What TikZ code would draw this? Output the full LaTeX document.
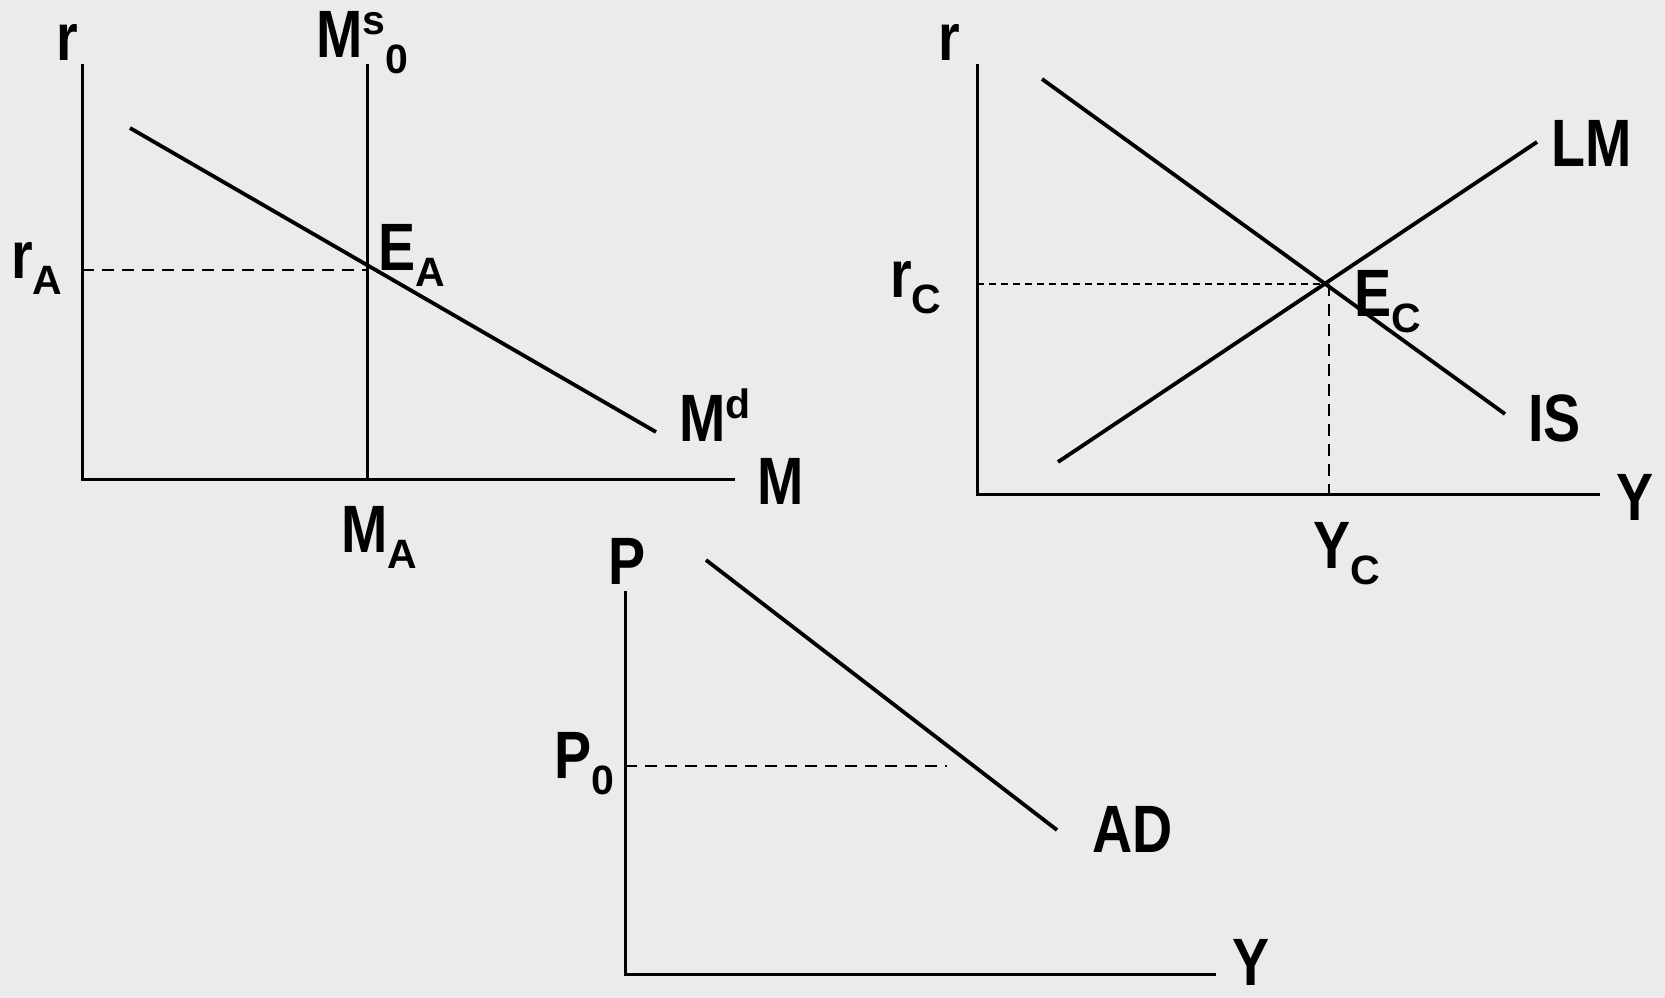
\documentclass[tikz,border=0pt]{standalone}
\usepackage{fontspec}
\setmainfont{Liberation Sans}[FakeStretch=0.83]
\newfontfamily\idxfont{Liberation Sans}
\usepackage{tikz}
\usetikzlibrary{positioning}
\definecolor{PaperGray}{HTML}{EBEBEB}
\newcommand\lowidx[1]{\raisebox{-16pt}{\idxfont\bfseries\fontsize{41}{41}\selectfont #1}}
\newcommand\highidx[1]{\raisebox{23pt}{\idxfont\bfseries\fontsize{41}{41}\selectfont #1}}

\begin{document}
\begin{tikzpicture}[x=1pt,y=-1pt,
  axis/.style={line width=3pt},
  curve/.style={line width=3.8pt},
  guide/.style={line width=2.6pt,dash pattern=on 12pt off 8pt},
  fineguide/.style={line width=2pt,dash pattern=on 7pt off 5pt},
  lbl/.style={inner sep=0pt,anchor=base west,font=\fontsize{67}{70}\selectfont\bfseries}
]
  \fill[PaperGray] (0,0) rectangle (1665,998);
  \useasboundingbox (0,0) rectangle (1665,998);

  % money market
  \coordinate (mO) at (82,479);
  \coordinate (mTop) at (82,64);
  \coordinate (mEnd) at (735,479);
  \coordinate (msTop) at (367,64);
  \coordinate (msBot) at (367,479);
  \coordinate (mdA) at (130,128);
  \coordinate (mdB) at (656,432);
  \coordinate (eA) at (367,270);
  \coordinate (rA) at (82,270);
  \draw[axis] (mTop) -- (mO) -- (mEnd);
  \draw[axis] (msTop) -- (msBot);
  \draw[curve] (mdA) -- (mdB);
  \draw[guide] (rA) -- (eA);
  \node[lbl] (mr) at (56,61) {r};
  \node[lbl] (ms) at (316,58) {M\highidx{s}\lowidx{0}};
  \node[lbl] (mrA) at (11,278) {r\lowidx{A}};
  \node[lbl] (mEA) at (378,270) {E\lowidx{A}};
  \node[lbl] (md) at (679,441) {M\highidx{d}};
  \node[lbl] (mM) at (757,504) {M};
  \node[lbl] (mMA) at (341,552) {M\lowidx{A}};

  % IS-LM
  \coordinate (iO) at (977,494);
  \coordinate (iTop) at (977,64);
  \coordinate (iEnd) at (1600,494);
  \coordinate (isA) at (1042,79);
  \coordinate (isB) at (1505,414);
  \coordinate (lmA) at (1058,462);
  \coordinate (lmB) at (1537,142);
  \coordinate (eC) at (1326,284);
  \coordinate (rC) at (977,284);
  \coordinate (yC) at (1329,494);
  \draw[axis] (iTop) -- (iO) -- (iEnd);
  \draw[curve] (isA) -- (isB);
  \draw[curve] (lmA) -- (lmB);
  \draw[fineguide] (rC) -- (eC);
  \draw[guide] (eC -| yC) -- (yC);
  \node[lbl] (ir) at (938,61) {r};
  \node[lbl] (irC) at (890,297) {r\lowidx{C}};
  \node[lbl] (iEC) at (1354,316) {E\lowidx{C}};
  \node[lbl] (iLM) at (1551,166) {LM};
  \node[lbl] (iIS) at (1528,441) {IS};
  \node[lbl] (iY) at (1616,520) {Y};
  \node[lbl] (iYC) at (1313,568) {Y\lowidx{C}};

  % AD
  \coordinate (aO) at (625,974);
  \coordinate (aTop) at (625,591);
  \coordinate (aEnd) at (1216,974);
  \coordinate (adA) at (706,560);
  \coordinate (adB) at (1057,830);
  \coordinate (pZero) at (625,766);
  \coordinate (pEnd) at (947,766);
  \draw[axis] (aTop) -- (aO) -- (aEnd);
  \draw[curve] (adA) -- (adB);
  \draw[guide] (pZero) -- (pEnd);
  \node[lbl] (aP) at (608,584) {P};
  \node[lbl] (aP0) at (554,778) {P\lowidx{0}};
  \node[lbl] (aAD) at (1092,852) {AD};
  \node[lbl] (aY) at (1232,985) {Y};
\end{tikzpicture}
\end{document}
